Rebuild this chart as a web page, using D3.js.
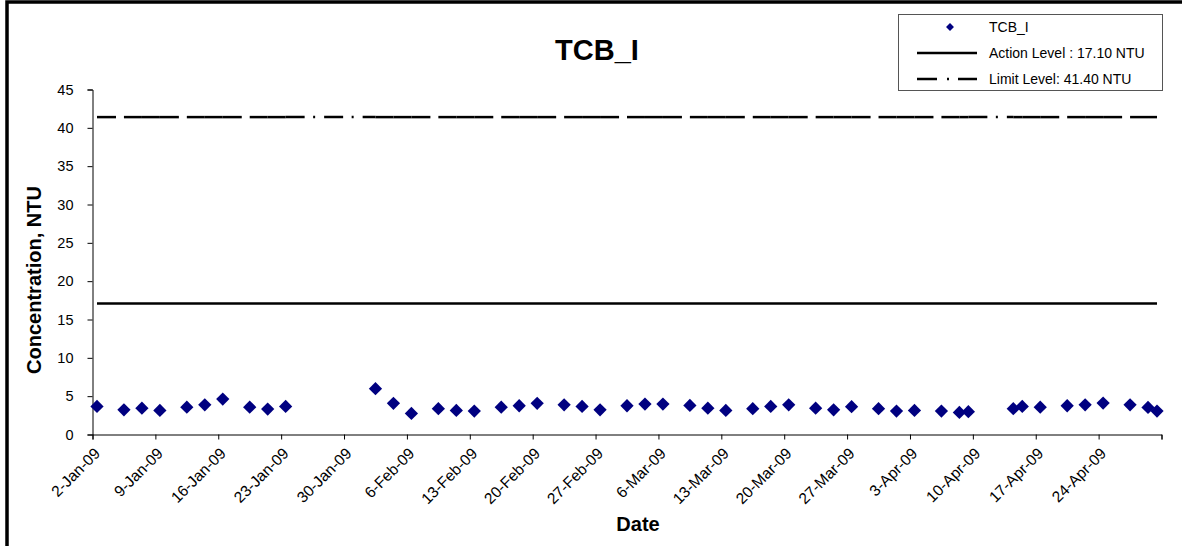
<!DOCTYPE html>
<html>
<head>
<meta charset="utf-8">
<script src="https://cdn.jsdelivr.net/npm/d3@7"></script>
<style>
  html, body { margin: 0; padding: 0; background: #fff; }
  svg { display: block; font-family: "Liberation Sans", Arial, sans-serif; }
</style>
</head>
<body>
<svg id="chart" width="1182" height="546"></svg>
<script>
// ---- data ----
const dates = [
  "2009-01-02","2009-01-05","2009-01-07","2009-01-09","2009-01-12","2009-01-14","2009-01-16",
  "2009-01-19","2009-01-21","2009-01-23","2009-02-02","2009-02-04","2009-02-06","2009-02-09",
  "2009-02-11","2009-02-13","2009-02-16","2009-02-18","2009-02-20","2009-02-23","2009-02-25",
  "2009-02-27","2009-03-02","2009-03-04","2009-03-06","2009-03-09","2009-03-11","2009-03-13",
  "2009-03-16","2009-03-18","2009-03-20","2009-03-23","2009-03-25","2009-03-27","2009-03-30",
  "2009-04-01","2009-04-03","2009-04-06","2009-04-08","2009-04-09","2009-04-14","2009-04-15",
  "2009-04-17","2009-04-20","2009-04-22","2009-04-24","2009-04-27","2009-04-29","2009-04-30"
];
const tcbValues = [
  3.66,3.22,3.44,3.14,3.57,3.88,4.62,
  3.57,3.31,3.66,5.98,4.06,2.75,3.36,
  3.14,3.05,3.57,3.75,4.06,3.88,3.66,
  3.22,3.75,3.97,3.97,3.79,3.44,3.14,
  3.36,3.66,3.88,3.44,3.22,3.62,3.36,
  3.05,3.14,3.05,2.88,2.97,3.36,3.66,
  3.57,3.75,3.88,4.10,3.88,3.53,3.05
];
const actionLevel = 17.10;
const limitLevel = 41.40;
const seriesNames = ["TCB_I", "Action Level : 17.10 NTU", "Limit Level: 41.40 NTU"];
const xTickDates = [
  "2009-01-02","2009-01-09","2009-01-16","2009-01-23","2009-01-30","2009-02-06",
  "2009-02-13","2009-02-20","2009-02-27","2009-03-06","2009-03-13","2009-03-20",
  "2009-03-27","2009-04-03","2009-04-10","2009-04-17","2009-04-24","2009-05-01"
];
const xTickLabels = [
  "2-Jan-09","9-Jan-09","16-Jan-09","23-Jan-09","30-Jan-09","6-Feb-09",
  "13-Feb-09","20-Feb-09","27-Feb-09","6-Mar-09","13-Mar-09","20-Mar-09",
  "27-Mar-09","3-Apr-09","10-Apr-09","17-Apr-09","24-Apr-09",""
];
const yTicks = [0,5,10,15,20,25,30,35,40,45];
const chartTitle = "TCB_I";
const xTitle = "Date";
const yTitle = "Concentration, NTU";

// ---- setup ----
const parse = d3.utcParse("%Y-%m-%d");
const pts = dates.map((d, i) => ({ date: d3.utcHour.offset(parse(d), 12), v: tcbValues[i] }));
const tickDates = xTickDates.map(parse);

const svg = d3.select("#chart");
const x = d3.scaleUtc().domain([tickDates[0], tickDates[tickDates.length - 1]]).range([92.5, 1161.5]);
const y = d3.scaleLinear().domain([0, 45]).range([434.5, 89.5]);

// outer frame (top and left edges visible)
svg.append("path").attr("d", "M7,546 L7,2 L1182,2")
  .attr("fill", "none").attr("stroke", "#000").attr("stroke-width", 3.5);

// title
svg.append("text").attr("x", 597).attr("y", 60).attr("text-anchor", "middle")
  .attr("font-size", 29).attr("font-weight", "bold").text(chartTitle);

// y axis
const yAxis = d3.axisLeft(y).tickValues(yTicks).tickSize(5).tickPadding(14).tickFormat(d3.format("d"));
const gy = svg.append("g").attr("transform", "translate(92.5,0)").call(yAxis);
gy.select(".domain").attr("stroke", "#000");
gy.selectAll(".tick line").attr("stroke", "#000");
gy.selectAll(".tick text").attr("font-size", 14.5).attr("font-family", "Liberation Sans, Arial, sans-serif").attr("fill", "#000");

// x axis
const xAxis = d3.axisBottom(x).tickValues(tickDates).tickSize(5)
  .tickFormat((d, i) => xTickLabels[i]);
const gx = svg.append("g").attr("transform", "translate(0,434.5)").call(xAxis);
gx.select(".domain").attr("stroke", "#000");
gx.selectAll(".tick line").attr("stroke", "#000");
gx.selectAll(".tick text")
  .attr("font-size", 15.5).attr("font-family", "Liberation Sans, Arial, sans-serif").attr("fill", "#000")
  .attr("text-anchor", "end").attr("y", 0).attr("dy", 0)
  .attr("transform", "translate(8,20) rotate(-45)");

// axis titles
svg.append("text").attr("transform", `translate(41,280) rotate(-90)`)
  .attr("text-anchor", "middle").attr("font-size", 20).attr("font-weight", "bold").text(yTitle);
svg.append("text").attr("x", 638).attr("y", 531).attr("text-anchor", "middle")
  .attr("font-size", 20).attr("font-weight", "bold").text(xTitle);

// action level line (solid)
const line = d3.line().x(d => x(d.date)).y(d => y(d.v));
svg.append("path")
  .datum(pts.map(p => ({ date: p.date, v: actionLevel })))
  .attr("d", line).attr("fill", "none").attr("stroke", "#000").attr("stroke-width", 2.5);

// limit level line (dash-dot restarting at every point, as in source)
const limitPts = pts.map(p => ({ date: p.date, v: limitLevel }));
const segs = d3.pairs(limitPts);
svg.append("g").selectAll("path").data(segs).join("path")
  .attr("d", d => line(d)).attr("fill", "none").attr("stroke", "#000")
  .attr("stroke-width", 2.5).attr("stroke-dasharray", "19,8.5,2,9");

// data markers
const diamond = d3.symbol().type(d3.symbolDiamond2).size(112);
svg.append("g").selectAll("path").data(pts).join("path")
  .attr("transform", d => `translate(${x(d.date)},${y(d.v)})`)
  .attr("d", diamond).attr("fill", "#000080");

// legend
const lg = svg.append("g");
lg.append("rect").attr("x", 898.5).attr("y", 14.5).attr("width", 264).attr("height", 76)
  .attr("fill", "#fff").attr("stroke", "#555").attr("stroke-width", 1);
const rowsY = [27, 53, 79];
lg.append("path").attr("transform", `translate(950,${rowsY[0]})`)
  .attr("d", d3.symbol().type(d3.symbolDiamond2).size(40)).attr("fill", "#000080");
lg.append("line").attr("x1", 917).attr("x2", 977).attr("y1", rowsY[1]).attr("y2", rowsY[1])
  .attr("stroke", "#000").attr("stroke-width", 2.5);
lg.append("line").attr("x1", 917).attr("x2", 977).attr("y1", rowsY[2]).attr("y2", rowsY[2])
  .attr("stroke", "#000").attr("stroke-width", 2.5).attr("stroke-dasharray", "20,10,2,9");
lg.selectAll("text.lbl").data(seriesNames).join("text").attr("class", "lbl")
  .attr("x", 989).attr("y", (d, i) => rowsY[i]).attr("dy", "0.36em")
  .attr("font-size", 14).text(d => d);
</script>
</body>
</html>
